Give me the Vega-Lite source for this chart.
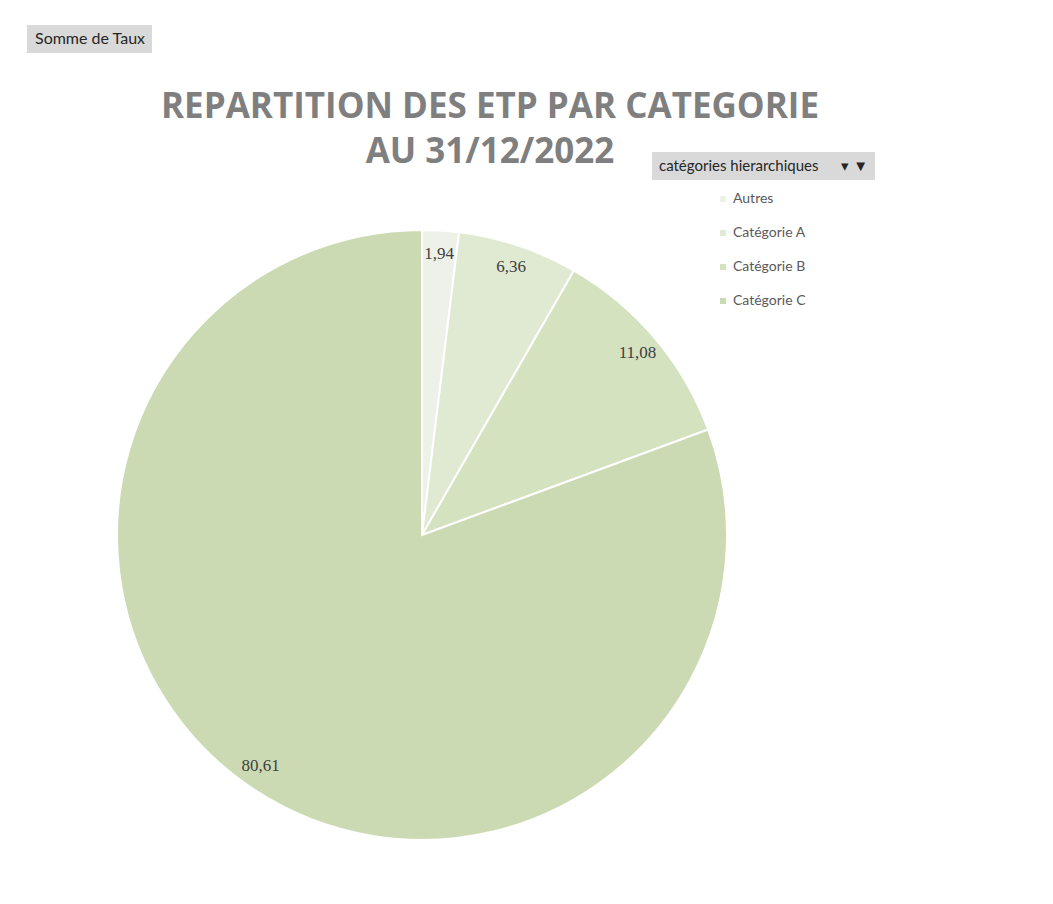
{
  "$schema": "https://vega.github.io/schema/vega-lite/v6.json",
  "width": 610,
  "height": 610,
  "autosize": {"type": "none"},
  "padding": {"left": 117, "top": 230, "right": 326, "bottom": 64},
  "background": "white",
  "config": {
    "view": {"stroke": null},
    "locale": {"number": {"decimal": ",", "thousands": " ", "grouping": [3], "currency": ["", " €"]}}
  },
  "title": {
    "text": ["REPARTITION DES ETP PAR CATEGORIE", "AU 31/12/2022"],
    "font": "Open Sans",
    "fontSize": 35,
    "fontWeight": "bold",
    "color": "#7f7f7f",
    "anchor": "middle",
    "dx": 68,
    "offset": -145,
    "lineHeight": 45,
    "limit": 0
  },
  "data": {
    "values": [
      {"categorie": "Autres", "taux": 1.94},
      {"categorie": "Catégorie A", "taux": 6.36},
      {"categorie": "Catégorie B", "taux": 11.08},
      {"categorie": "Catégorie C", "taux": 80.61}
    ]
  },
  "resolve": {"scale": {"shape": "independent"}, "legend": {"shape": "independent"}},
  "layer": [
    {
      "mark": {"type": "arc", "stroke": "#ffffff", "strokeWidth": 2},
      "encoding": {
        "theta": {"field": "taux", "type": "quantitative", "stack": true},
        "order": {"field": "categorie", "type": "nominal"},
        "color": {
          "field": "categorie",
          "type": "nominal",
          "scale": {
            "domain": ["Autres", "Catégorie A", "Catégorie B", "Catégorie C"],
            "range": ["#eef1e8", "#e0e9d1", "#d4e2c0", "#cbdab2"]
          },
          "legend": {
            "title": null,
            "orient": "none",
            "legendX": 599,
            "legendY": -38,
            "symbolType": "square",
            "symbolSize": 36,
            "symbolStrokeWidth": 0,
            "labelFont": "Lato",
            "labelFontSize": 14,
            "labelColor": "#595959",
            "labelOffset": 3,
            "rowPadding": 20,
            "encode": {
              "symbols": {
                "update": {
                  "fill": {"signal": "datum.value === 'Autres' ? '#dcdfd5' : datum.value === 'Catégorie A' ? '#c8d6ab' : datum.value === 'Catégorie B' ? '#a9be80' : '#8e9f72'"}
                }
              }
            }
          }
        }
      }
    },
    {
      "mark": {"type": "text", "radius": 282, "font": "Liberation Serif", "fontSize": 17, "color": "#404040"},
      "encoding": {
        "theta": {"field": "taux", "type": "quantitative", "stack": true},
        "order": {"field": "categorie", "type": "nominal"},
        "text": {"field": "taux", "type": "quantitative", "format": ".2f"}
      }
    },
    {
      "data": {"values": [{"lbl": "Somme de Taux"}]},
      "mark": {"type": "point", "opacity": 0},
      "encoding": {
        "shape": {
          "field": "lbl",
          "type": "nominal",
          "legend": {
            "title": null,
            "orient": "none",
            "legendX": -90,
            "legendY": -205,
            "fillColor": "#d9d9d9",
            "padding": 6,
            "symbolSize": 1,
            "symbolOpacity": 0,
            "labelOffset": -14,
            "labelFont": "Lato",
            "labelFontSize": 16,
            "labelColor": "#262626"
          }
        }
      }
    },
    {
      "data": {"values": [{"hdr": "catégories hierarchiques\u00a0\u00a0\u00a0\u00a0\u00a0\u00a0▾\u00a0▼"}]},
      "mark": {"type": "point", "opacity": 0},
      "encoding": {
        "shape": {
          "field": "hdr",
          "type": "nominal",
          "legend": {
            "title": null,
            "orient": "none",
            "legendX": 535,
            "legendY": -78,
            "fillColor": "#d9d9d9",
            "padding": 6,
            "symbolSize": 1,
            "symbolOpacity": 0,
            "labelOffset": -14,
            "labelLimit": 400,
            "labelFont": "Lato",
            "labelFontSize": 15,
            "labelColor": "#262626"
          }
        }
      }
    }
  ]
}
